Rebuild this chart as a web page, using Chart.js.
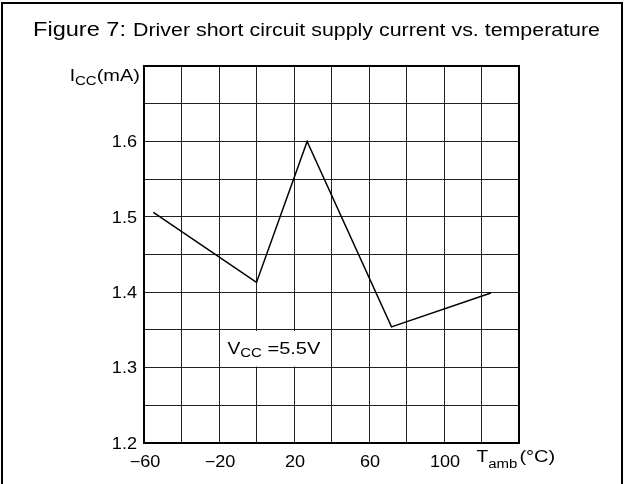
<!DOCTYPE html>
<html lang="en">
<head>
    <meta charset="UTF-8">
    <title>Figure 7</title>
    <script src="https://cdn.jsdelivr.net/npm/chart.js"></script>
    <style>
        html, body { margin: 0; padding: 0; background: #fff; }
        #wrap { width: 625px; height: 484px; position: relative; }
    </style>
</head>
<body>
    <div id="wrap"><canvas id="iccChart"></canvas></div>

    <script>
        // temperature (degC) and supply current (mA)
        const tempC = [-55, 0, 27, 72, 125];
        const iccMa = [1.506, 1.413, 1.6, 1.354, 1.399];

        const xTickLabels = [-60, -20, 20, 60, 100];
        const yTickLabels = [1.2, 1.3, 1.4, 1.5, 1.6];

        const FONT = '"Liberation Sans", Arial, sans-serif';

        // text helper, slightly stretched like the original plotter lettering
        function txt(ctx, s, x, y, size, align, sx) {
            sx = sx || 1.2;
            ctx.save();
            ctx.font = size + 'px ' + FONT;
            ctx.fillStyle = '#000';
            ctx.textBaseline = 'alphabetic';
            ctx.textAlign = 'left';
            const w = ctx.measureText(s).width * sx;
            let x0 = x;
            if (align === 'right') x0 = x - w;
            if (align === 'center') x0 = x - w / 2;
            ctx.translate(x0, y);
            ctx.scale(sx, 1);
            ctx.fillText(s, 0, 0);
            ctx.restore();
            return w;
        }

        // fit text into a given width
        function fitTxt(ctx, s, x, y, size, width) {
            ctx.save();
            ctx.font = size + 'px ' + FONT;
            const w = ctx.measureText(s).width;
            ctx.restore();
            txt(ctx, s, x, y, size, 'left', width / w);
        }

        const sameVal = (a, b) => Math.abs(a - b) < 1e-6;

        const decorations = {
            id: 'decorations',
            beforeDatasetsDraw(chart) {
                const ctx = chart.ctx;
                const xs = chart.scales.x, ys = chart.scales.y;
                // white box behind the Vcc note
                const l = xs.getPixelForValue(-20), r = xs.getPixelForValue(40);
                const t = ys.getPixelForValue(1.35), b = ys.getPixelForValue(1.3);
                ctx.save();
                ctx.fillStyle = '#fff';
                ctx.fillRect(l + 1, t + 1, r - l - 2, b - t - 2);
                ctx.restore();
                const vx = xs.getPixelForValue(-15.5);
                const vy = ys.getPixelForValue(1.318);
                let w = txt(ctx, 'V', vx, vy, 16, 'left', 1.2);
                w += txt(ctx, 'CC', vx + w, vy + 3, 12.5, 'left', 1.2);
                txt(ctx, ' =5.5V', vx + w, vy, 16, 'left', 1.25);
            },
            afterDraw(chart) {
                const ctx = chart.ctx;
                const a = chart.chartArea;
                const xs = chart.scales.x, ys = chart.scales.y;

                // outer frame
                ctx.save();
                ctx.strokeStyle = '#000';
                ctx.lineWidth = 2;
                ctx.strokeRect(2, 3, 620, 500);
                // plot border
                ctx.strokeRect(a.left, a.top, a.right - a.left, a.bottom - a.top);
                ctx.restore();

                // title
                fitTxt(ctx, 'Figure 7:', 33, 36, 20, 93);
                fitTxt(ctx, 'Driver short circuit supply current vs. temperature', 133, 36, 17.5, 467);

                // tick labels
                ys.ticks.forEach(tk => {
                    if (!yTickLabels.some(v => sameVal(v, tk.value))) return;
                    const py = ys.getPixelForValue(tk.value);
                    txt(ctx, tk.value.toFixed(1), a.left - 7, py + 5.8, 16, 'right', 1.13);
                });
                xs.ticks.forEach(tk => {
                    if (!xTickLabels.some(v => sameVal(v, tk.value))) return;
                    const px = xs.getPixelForValue(tk.value);
                    const s = (tk.value < 0 ? '\u2212' : '') + Math.abs(tk.value);
                    txt(ctx, s, px + 1, a.bottom + 24, 16, 'center', 1.13);
                });

                // y axis title  I_CC(mA)
                ctx.save();
                ctx.font = '16px ' + FONT;
                const wI = ctx.measureText('I').width * 1.2;
                const wP = ctx.measureText('(mA)').width * 1.25;
                ctx.font = '12.5px ' + FONT;
                const wC = ctx.measureText('CC').width * 1.2;
                ctx.restore();
                let yx = a.left - 4 - (wI + wC + wP);
                yx += txt(ctx, 'I', yx, 81, 16);
                yx += txt(ctx, 'CC', yx, 85, 12.5);
                txt(ctx, '(mA)', yx, 81, 16, 'left', 1.25);

                // x axis title  T_amb(°C)
                let tx = xs.getPixelForValue(120) - 5;
                tx += txt(ctx, 'T', tx, 462, 16);
                tx += txt(ctx, 'amb', tx, 468, 12.5);
                txt(ctx, '(°C)', tx + 2, 462, 16, 'left', 1.25);
            }
        };

        const ctx = document.getElementById('iccChart').getContext('2d');
        const iccChart = new Chart(ctx, {
            type: 'line',
            data: {
                datasets: [{
                    label: 'Icc',
                    data: tempC.map((t, i) => ({ x: t, y: iccMa[i] })),
                    borderColor: '#000',
                    borderWidth: 1.5,
                    pointRadius: 0,
                    tension: 0,
                    fill: false
                }]
            },
            options: {
                responsive: true,
                maintainAspectRatio: false,
                animation: false,
                devicePixelRatio: 1,
                layout: { padding: { left: 0, right: 106, top: 66, bottom: 0 } },
                plugins: { legend: { display: false }, tooltip: { enabled: false } },
                scales: {
                    x: {
                        type: 'linear',
                        min: -60, max: 140,
                        ticks: { stepSize: 20, display: false },
                        grid: { color: '#222', lineWidth: 1, drawTicks: false },
                        border: { display: false },
                        afterFit: s => { s.height = 41; }
                    },
                    y: {
                        type: 'linear',
                        min: 1.2, max: 1.7,
                        ticks: { stepSize: 0.05, display: false },
                        grid: { color: '#222', lineWidth: 1, drawTicks: false },
                        border: { display: false },
                        afterFit: s => { s.width = 144; }
                    }
                }
            },
            plugins: [decorations]
        });
    </script>
</body>
</html>
